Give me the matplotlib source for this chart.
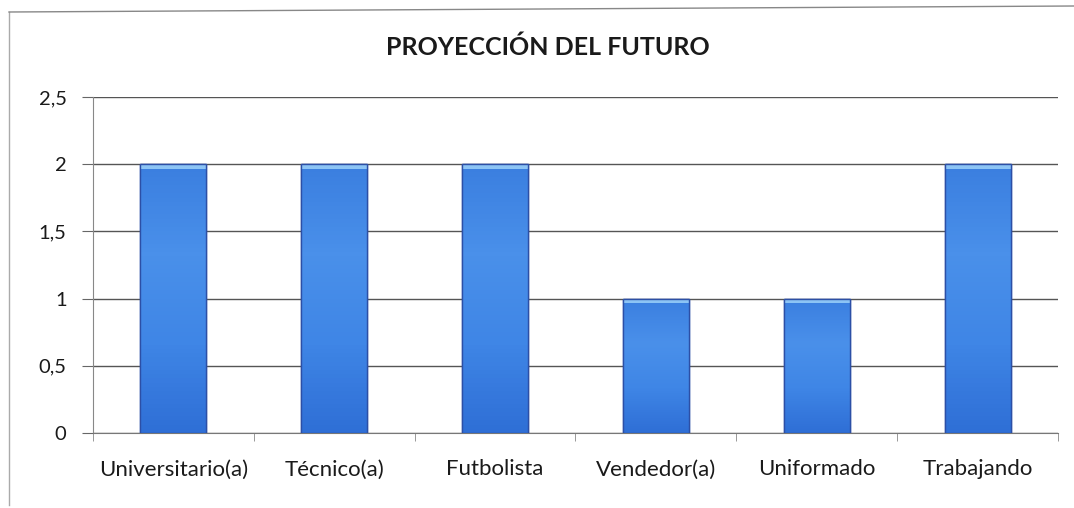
import matplotlib
matplotlib.use("Agg")
import matplotlib.pyplot as plt
import numpy as np
from matplotlib.patches import Rectangle
from matplotlib.lines import Line2D

categories = ["Universitario(a)", "Técnico(a)", "Futbolista", "Vendedor(a)", "Uniformado", "Trabajando"]
values = [2, 2, 2, 1, 1, 2]
yticks = [0, 0.5, 1, 1.5, 2, 2.5]
ytick_labels = ["0", "0,5", "1", "1,5", "2", "2,5"]
title = "PROYECCIÓN DEL FUTURO"

plt.rcParams['font.family'] = ['Lato', 'DejaVu Sans']

fig = plt.figure(figsize=(10.74, 5.08), dpi=100)
ax = fig.add_axes([93/1074, 1-433/508, (1058-93)/1074, (433-97)/508])

x = np.arange(len(categories))
bars = ax.bar(x, values, width=0.41, color="#3d80df", edgecolor="#2c4fa6", linewidth=1.0, zorder=3)

cmap = matplotlib.colors.LinearSegmentedColormap.from_list(
    "g", ["#2f6fd6", "#3f86e6", "#4a90ea", "#3b7fe0"])
for b in bars:
    bx, by = b.get_x(), b.get_y()
    w, h = b.get_width(), b.get_height()
    grad = np.linspace(0, 1, 64).reshape(-1, 1)
    im = ax.imshow(grad, extent=[bx, bx + w, by, by + h], aspect="auto",
                   cmap=cmap, origin="lower", zorder=3.5)
    im.set_clip_path(b)
    ax.add_patch(Rectangle((bx, by + h - 0.035), w, 0.035, color="#8cc4f5", zorder=3.6, lw=0))
    ax.add_patch(Rectangle((bx, by), w, h, fill=False, edgecolor="#2c4fa6", lw=1.0, zorder=3.7))

ax.set_xlim(-0.5, len(categories) - 0.5)
ax.set_ylim(0, 2.5)
ax.set_yticks(yticks)
ax.set_yticklabels(ytick_labels)
ax.set_xticks(x)
ax.set_xticklabels(categories)
ax.set_xticks(np.arange(-0.5, len(categories)), minor=True)

ax.yaxis.grid(True, color="#555555", linewidth=1.0, zorder=0)
ax.set_axisbelow(True)
for s in ["top", "right"]:
    ax.spines[s].set_visible(False)
ax.spines["left"].set_color("#888888")
ax.spines["bottom"].set_color("#777777")

ax.tick_params(axis="y", length=8, color="#666666", labelsize=14.5, pad=11, labelcolor="#1a1a1a")
ax.tick_params(axis="x", which="major", length=0, labelsize=16, pad=19, labelcolor="#1a1a1a")
ax.tick_params(axis="x", which="minor", length=6, color="#888888")

fig.text(548/1074, 1-47/508, title, ha="center", va="center", fontsize=18,
         fontweight="bold", color="#1a1a1a")

fig.add_artist(Line2D([9/1074, 9/1074], [1-12/508, 1-505/508], color="#aaaaaa", lw=1.0))
fig.add_artist(Line2D([9/1074, 1.0], [1-12/508, 1-6/508], color="#888888", lw=1.0))

fig.savefig("out.png", dpi=100)
